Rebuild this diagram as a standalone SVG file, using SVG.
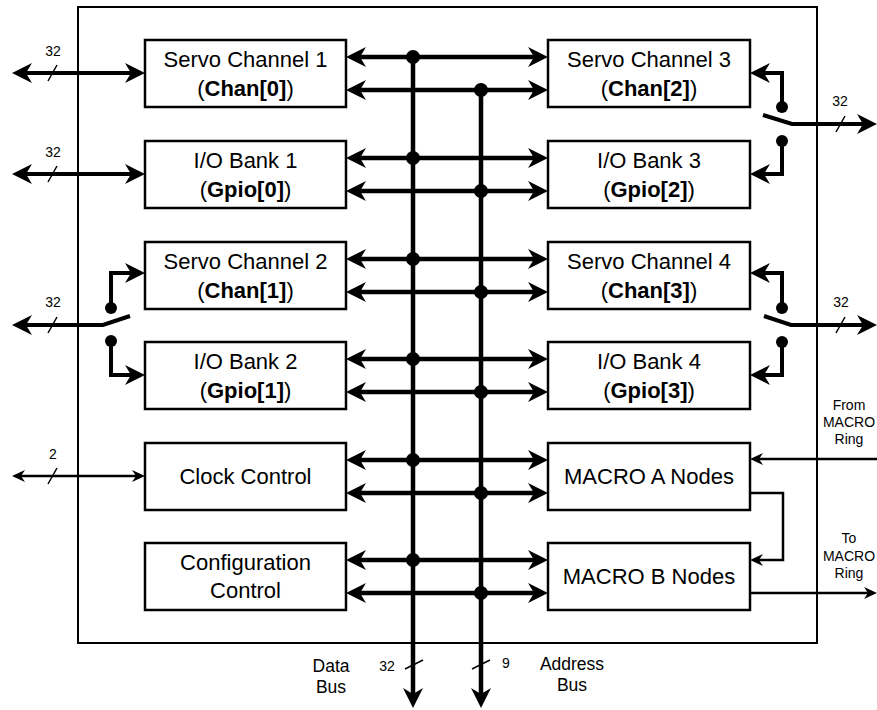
<svg xmlns="http://www.w3.org/2000/svg" width="877" height="710" viewBox="0 0 877 710">
<style>
  .box{fill:#fff;stroke:#000;stroke-width:2.5}
  .t{font-family:"Liberation Sans",Arial,sans-serif;font-size:22px;text-anchor:middle;fill:#000}
  .s{font-family:"Liberation Sans",Arial,sans-serif;font-size:14px;text-anchor:middle;fill:#000}
  .m{font-family:"Liberation Sans",Arial,sans-serif;font-size:17.5px;text-anchor:middle;fill:#000}
  .b{font-weight:bold}
  .thick{fill:none;stroke:#000;stroke-width:4.5}
  .thin{fill:none;stroke:#000;stroke-width:2.5}
  .sl{fill:none;stroke:#000;stroke-width:1.5}
  .dot{fill:#000}
</style>
<defs>
  <marker id="ab" viewBox="-20 -10 20 20" refX="-14" refY="0" markerWidth="20" markerHeight="20" markerUnits="userSpaceOnUse" orient="auto-start-reverse">
    <path d="M0,0 L-20,-10 L-14,0 L-20,10 Z" fill="#000"/>
  </marker>
  <marker id="as" viewBox="-13 -6 13 12" refX="-9" refY="0" markerWidth="13" markerHeight="12" markerUnits="userSpaceOnUse" orient="auto-start-reverse">
    <path d="M0,0 L-13,-6 L-9,0 L-13,6 Z" fill="#000"/>
  </marker>
</defs>
<rect x="0" y="0" width="877" height="710" fill="#fff"/>
<rect id="frame" x="78" y="7" width="739" height="636" fill="none" stroke="#000" stroke-width="2"/>

<g id="connectors">
  <!-- bus horizontals -->
  <path class="thick" marker-start="url(#ab)" marker-end="url(#ab)" d="M360,57 H534"/>
  <path class="thick" marker-start="url(#ab)" marker-end="url(#ab)" d="M360,90 H534"/>
  <path class="thick" marker-start="url(#ab)" marker-end="url(#ab)" d="M360,158 H534"/>
  <path class="thick" marker-start="url(#ab)" marker-end="url(#ab)" d="M360,191 H534"/>
  <path class="thick" marker-start="url(#ab)" marker-end="url(#ab)" d="M360,259 H534"/>
  <path class="thick" marker-start="url(#ab)" marker-end="url(#ab)" d="M360,292 H534"/>
  <path class="thick" marker-start="url(#ab)" marker-end="url(#ab)" d="M360,359 H534"/>
  <path class="thick" marker-start="url(#ab)" marker-end="url(#ab)" d="M360,392 H534"/>
  <path class="thick" marker-start="url(#ab)" marker-end="url(#ab)" d="M360,460 H534"/>
  <path class="thick" marker-start="url(#ab)" marker-end="url(#ab)" d="M360,493 H534"/>
  <path class="thick" marker-start="url(#ab)" marker-end="url(#ab)" d="M360,560 H534"/>
  <path class="thick" marker-start="url(#ab)" marker-end="url(#ab)" d="M360,593 H534"/>
  <!-- vertical buses -->
  <path class="thick" marker-end="url(#ab)" d="M413,57 V694"/>
  <path class="thick" marker-end="url(#ab)" d="M481,90 V694"/>
  <g class="dot">
    <circle cx="413" cy="57" r="7"/><circle cx="481" cy="90" r="7"/>
    <circle cx="413" cy="158" r="7"/><circle cx="481" cy="191" r="7"/>
    <circle cx="413" cy="259" r="7"/><circle cx="481" cy="292" r="7"/>
    <circle cx="413" cy="359" r="7"/><circle cx="481" cy="392" r="7"/>
    <circle cx="413" cy="460" r="7"/><circle cx="481" cy="493" r="7"/>
    <circle cx="413" cy="560" r="7"/><circle cx="481" cy="593" r="7"/>
  </g>
  <!-- left external -->
  <path class="thick" style="stroke-width:4" marker-start="url(#ab)" marker-end="url(#ab)" d="M26,73 H131"/>
  <path class="thick" style="stroke-width:4" marker-start="url(#ab)" marker-end="url(#ab)" d="M26,174 H131"/>
  <path class="thick" style="stroke-width:4" marker-start="url(#ab)" d="M26,325 H103 L130,316"/>
  <path class="thick" style="stroke-width:4" marker-end="url(#ab)" d="M111,308 V273 H131"/>
  <path class="thick" style="stroke-width:4" marker-end="url(#ab)" d="M111,341 V375 H131"/>
  <circle class="dot" cx="111" cy="308" r="6"/>
  <circle class="dot" cx="111" cy="341" r="6"/>
  <path class="thin" marker-start="url(#as)" marker-end="url(#as)" d="M21,476 H136"/>
  <!-- right switches -->
  <path class="thick" style="stroke-width:4" marker-end="url(#ab)" d="M782,107 V73 H764"/>
  <path class="thick" style="stroke-width:4" marker-end="url(#ab)" d="M782,141 V174 H764"/>
  <path class="thick" style="stroke-width:4" marker-end="url(#ab)" d="M763,115 L792,124 H863"/>
  <circle class="dot" cx="782" cy="107" r="6"/>
  <circle class="dot" cx="782" cy="141" r="6"/>
  <path class="thick" style="stroke-width:4" marker-end="url(#ab)" d="M782,308 V273 H764"/>
  <path class="thick" style="stroke-width:4" marker-end="url(#ab)" d="M782,342 V375 H764"/>
  <path class="thick" style="stroke-width:4" marker-end="url(#ab)" d="M764,316 L791,325 H863"/>
  <circle class="dot" cx="782" cy="308" r="6"/>
  <circle class="dot" cx="782" cy="342" r="6"/>
  <!-- MACRO ring -->
  <path class="thin" marker-end="url(#as)" d="M877,459 H759"/>
  <path class="thin" marker-end="url(#as)" d="M750,493 H783 V560 H759"/>
  <path class="thin" marker-end="url(#as)" d="M750,593 H868"/>
  <!-- width slashes -->
  <path class="sl" d="M48,81 L57,65 M48,182 L57,166 M48,333 L57,317 M48,484 L57,468 M836,132 L845,116 M836,333 L845,317 M405,669 L423,660 M472,669 L490,660"/>
</g>

<g id="labels">
  <text class="s" x="53" y="56">32</text>
  <text class="s" x="53" y="157">32</text>
  <text class="s" x="53" y="307">32</text>
  <text class="s" x="53" y="459">2</text>
  <text class="s" x="840" y="106">32</text>
  <text class="s" x="841" y="307">32</text>
  <text class="s" x="849" y="410">From</text>
  <text class="s" x="849" y="427">MACRO</text>
  <text class="s" x="849" y="444">Ring</text>
  <text class="s" x="849" y="543">To</text>
  <text class="s" x="849" y="561">MACRO</text>
  <text class="s" x="849" y="578">Ring</text>
  <text class="s" x="387" y="671">32</text>
  <text class="s" x="506" y="668">9</text>
  <text class="m" x="331" y="672">Data</text>
  <text class="m" x="331" y="693">Bus</text>
  <text class="m" x="572" y="670">Address</text>
  <text class="m" x="572" y="691">Bus</text>
</g>

<g id="servo1"><rect class="box" x="145" y="40" width="201" height="67"/><text class="t" x="245.5" y="67">Servo Channel 1</text><text class="t" x="245.5" y="96">(<tspan class="b">Chan[0]</tspan>)</text></g>
<g id="io1"><rect class="box" x="145" y="141" width="201" height="67"/><text class="t" x="245.5" y="168">I/O Bank 1</text><text class="t" x="245.5" y="197">(<tspan class="b">Gpio[0]</tspan>)</text></g>
<g id="servo2"><rect class="box" x="145" y="242" width="201" height="67"/><text class="t" x="245.5" y="269">Servo Channel 2</text><text class="t" x="245.5" y="298">(<tspan class="b">Chan[1]</tspan>)</text></g>
<g id="io2"><rect class="box" x="145" y="342" width="201" height="67"/><text class="t" x="245.5" y="369">I/O Bank 2</text><text class="t" x="245.5" y="398">(<tspan class="b">Gpio[1]</tspan>)</text></g>
<g id="clock"><rect class="box" x="145" y="443" width="201" height="67"/><text class="t" x="245.5" y="484">Clock Control</text></g>
<g id="config"><rect class="box" x="145" y="543" width="201" height="67"/><text class="t" x="245.5" y="570">Configuration</text><text class="t" x="245.5" y="598">Control</text></g>

<g id="servo3"><rect class="box" x="548" y="40" width="202" height="67"/><text class="t" x="649" y="67">Servo Channel 3</text><text class="t" x="649" y="96">(<tspan class="b">Chan[2]</tspan>)</text></g>
<g id="io3"><rect class="box" x="548" y="141" width="202" height="67"/><text class="t" x="649" y="168">I/O Bank 3</text><text class="t" x="649" y="197">(<tspan class="b">Gpio[2]</tspan>)</text></g>
<g id="servo4"><rect class="box" x="548" y="242" width="202" height="67"/><text class="t" x="649" y="269">Servo Channel 4</text><text class="t" x="649" y="298">(<tspan class="b">Chan[3]</tspan>)</text></g>
<g id="io4"><rect class="box" x="548" y="342" width="202" height="67"/><text class="t" x="649" y="369">I/O Bank 4</text><text class="t" x="649" y="398">(<tspan class="b">Gpio[3]</tspan>)</text></g>
<g id="macroA"><rect class="box" x="548" y="443" width="202" height="67"/><text class="t" x="649" y="484">MACRO A Nodes</text></g>
<g id="macroB"><rect class="box" x="548" y="543" width="202" height="67"/><text class="t" x="649" y="584">MACRO B Nodes</text></g>
</svg>
